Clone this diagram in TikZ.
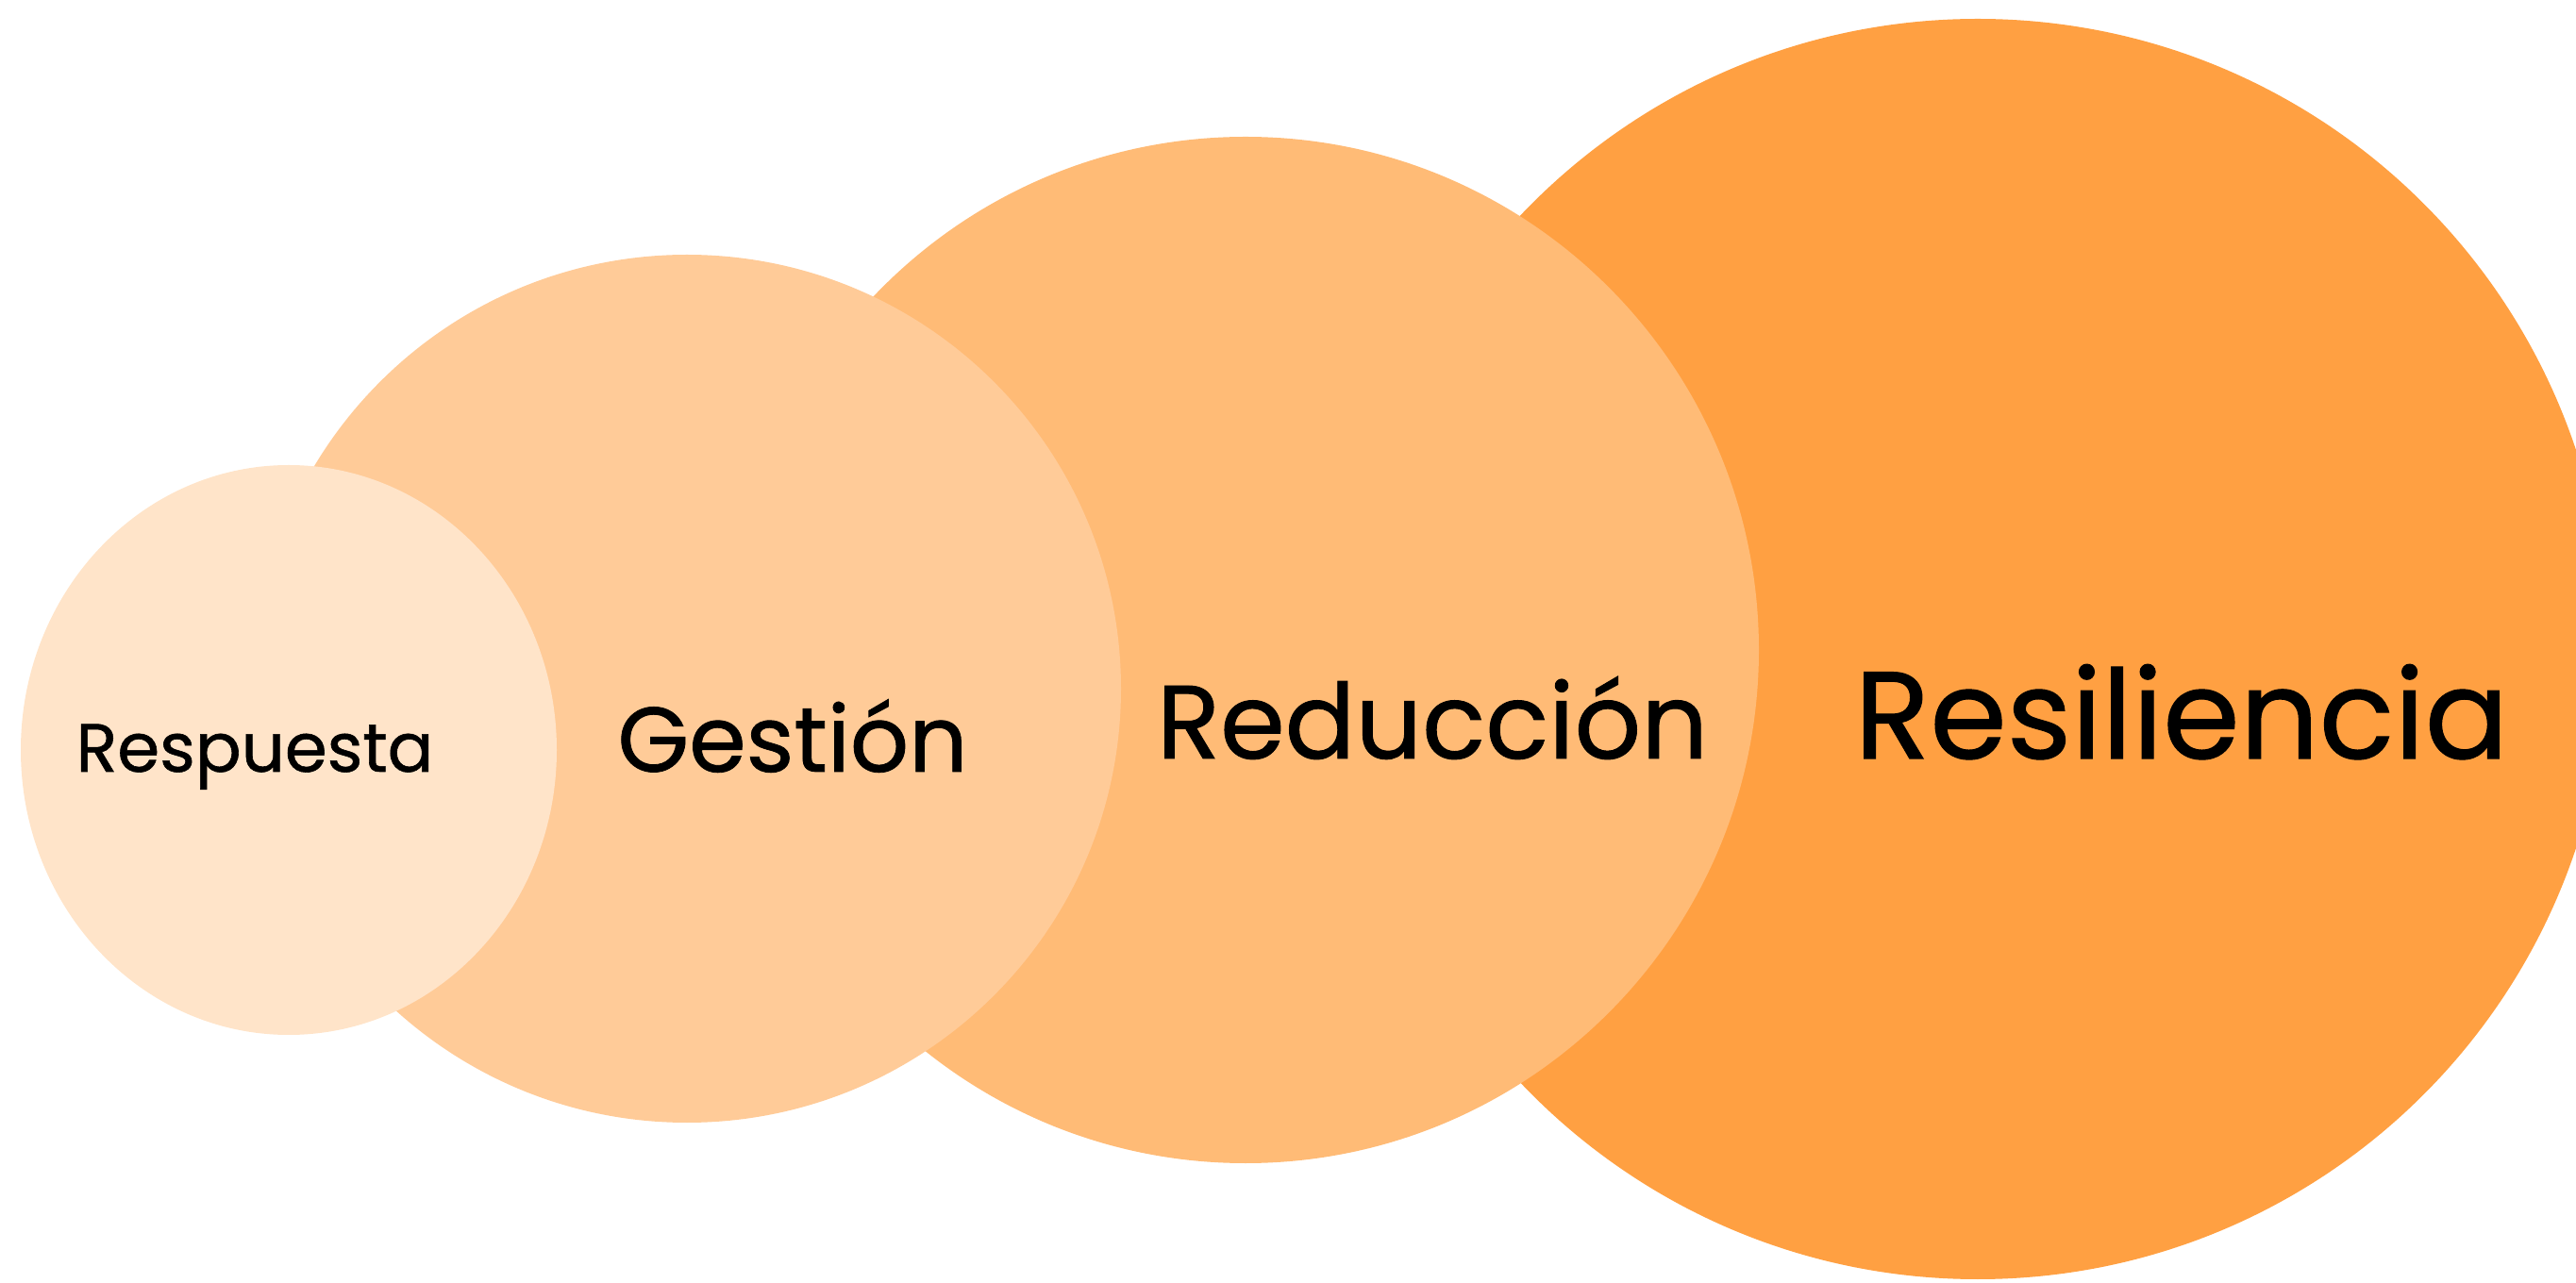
\documentclass[tikz,border=0pt]{standalone}
\usepackage{fontspec}
\setmainfont{Poppins}[FakeBold=0.8]
\definecolor{respcol}{HTML}{FFE4C9}
\definecolor{gestcol}{HTML}{FFCB98}
\definecolor{reduccol}{HTML}{FFBB76}
\definecolor{resilcol}{HTML}{FFA042}
\tikzset{label text/.style={anchor=base, inner sep=0pt, text=black}}
\newcommand{\fitword}[2]{\resizebox{#1}{!}{#2}}
\begin{document}
\begin{tikzpicture}
	\useasboundingbox (0, 0) rectangle (27.30, 13.59);
	\clip (0, 0) rectangle (27.30, 13.59);

	\fill [resilcol] (20.96, 6.71) circle[radius=6.68];
	\fill [reduccol] (13.20, 6.70) circle[radius=5.44];
	\fill [gestcol] (7.28, 6.29) circle[radius=4.60];
	\fill [respcol] (3.06, 5.64) ellipse[x radius=2.84, y radius=3.02];

	\node (resp) at (2.70, 5.41) [label text] {\fitword{3.79cm}{Respuesta}};
	\node (gest) at (8.40, 5.41) [label text] {\fitword{3.71cm}{Gestión}};
	\node (reduc) at (15.18, 5.55) [label text] {\fitword{5.84cm}{Reducción}};
	\node (resil) at (23.12, 5.55) [label text] {\fitword{6.93cm}{Resiliencia}};
\end{tikzpicture}
\end{document}
